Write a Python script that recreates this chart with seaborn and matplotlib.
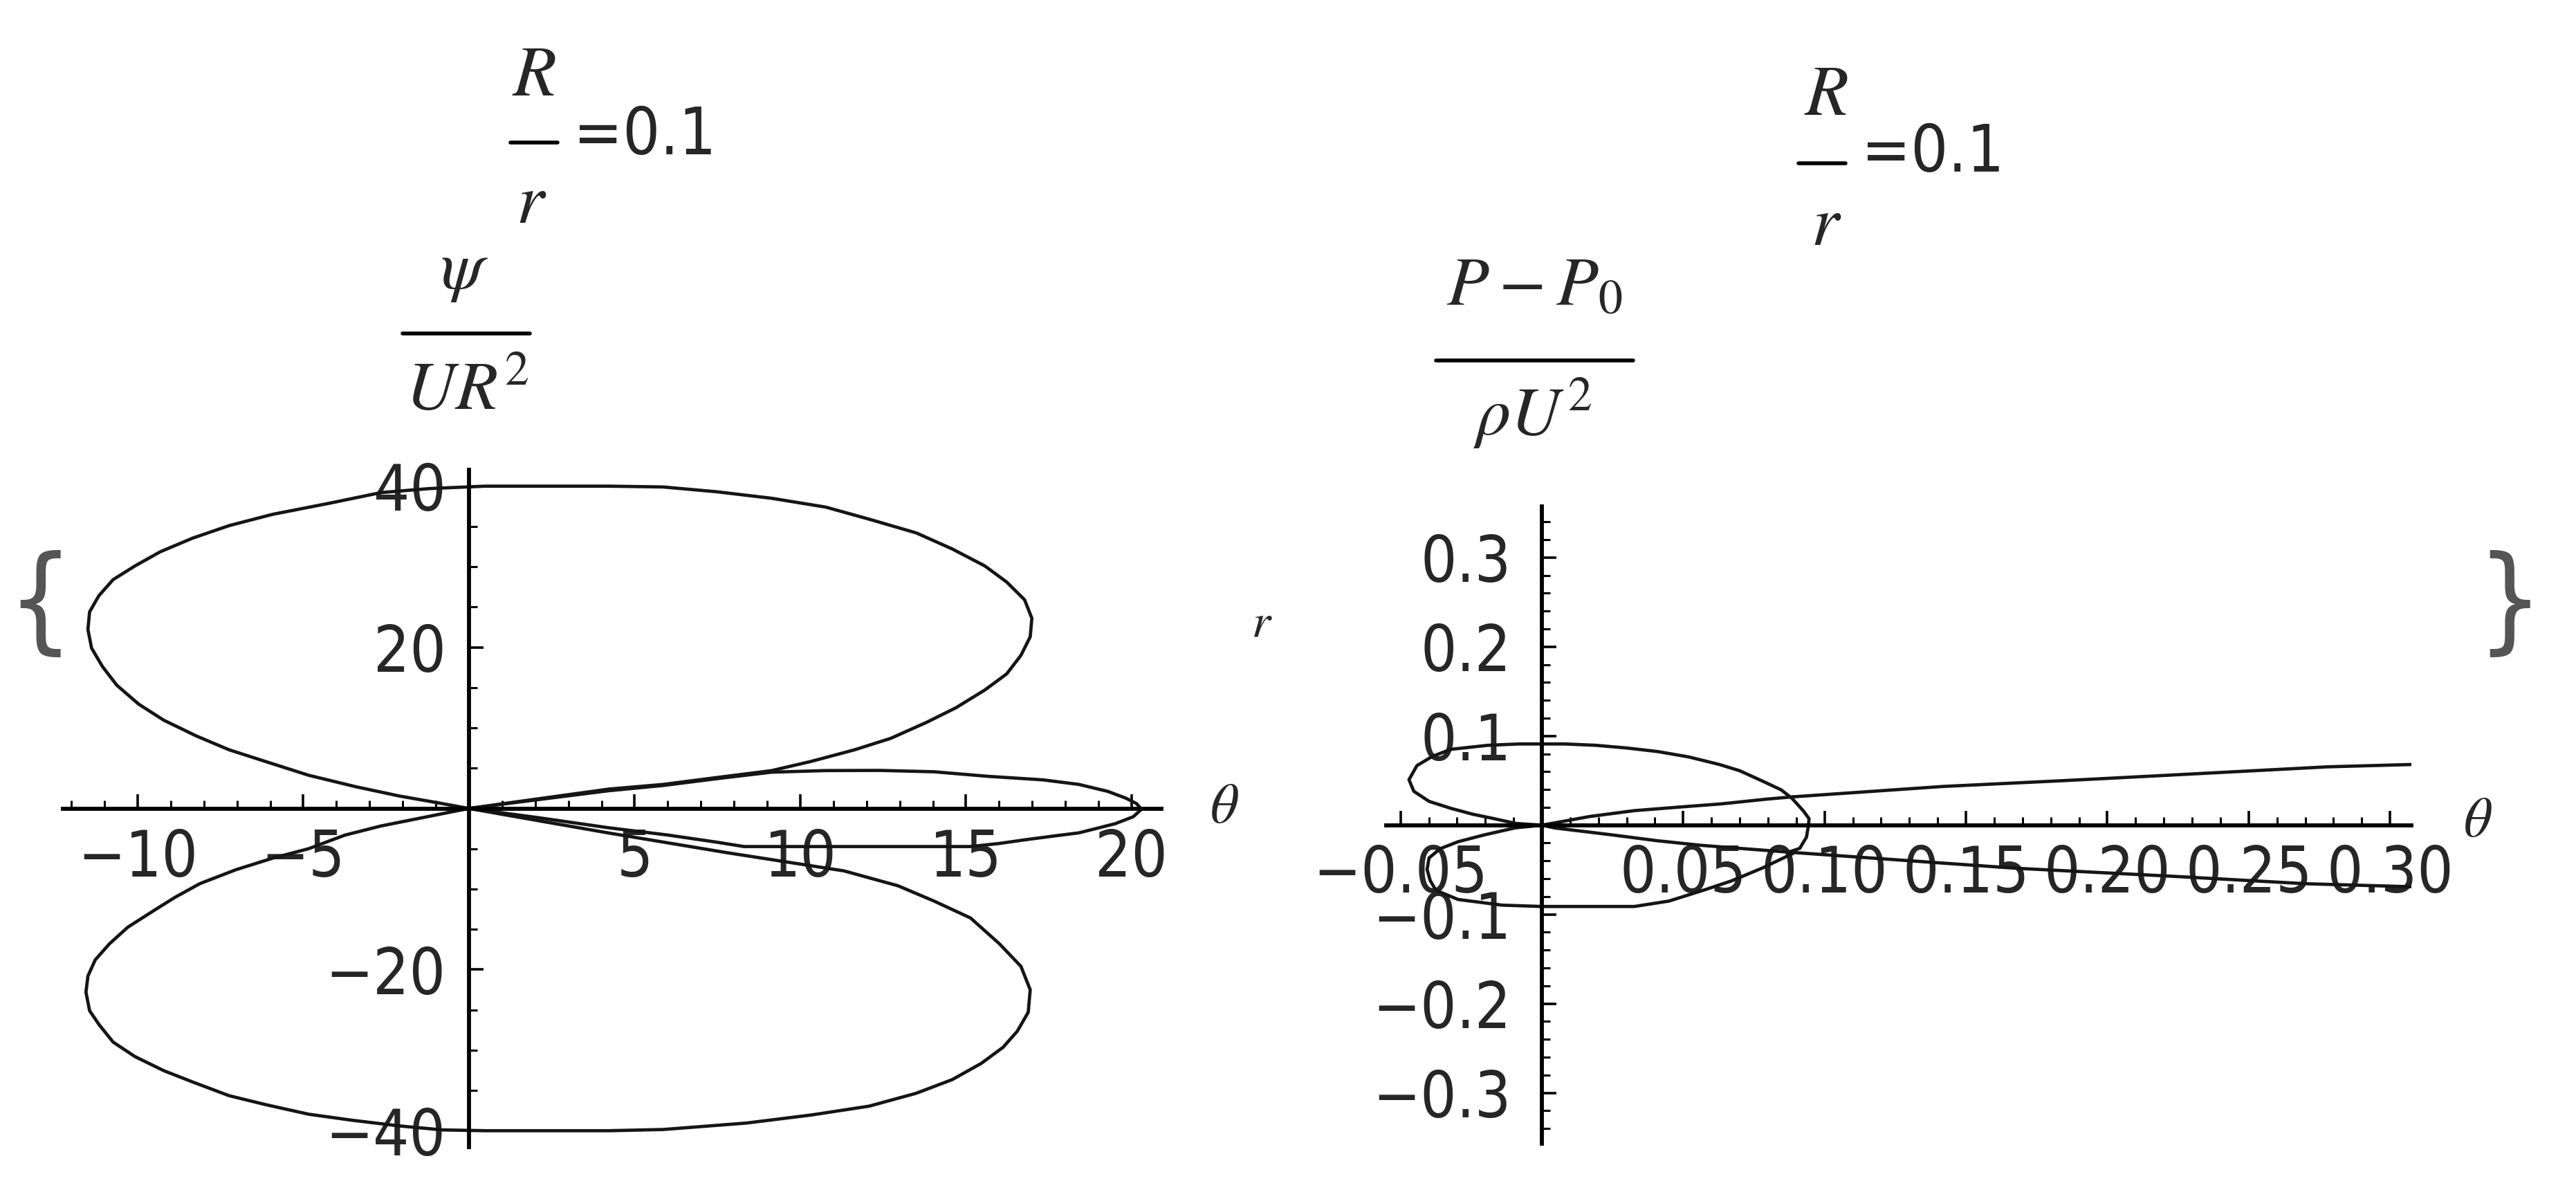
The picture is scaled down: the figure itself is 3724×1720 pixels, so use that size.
import matplotlib
matplotlib.use("Agg")
import matplotlib.pyplot as plt
import seaborn as sns
from matplotlib import font_manager
from matplotlib.lines import Line2D
from matplotlib.ticker import MultipleLocator

# ---------------- data ----------------
# Left panel: psi/(U R^2) versus theta
upper_lobe_x = [0.0, -0.91, -2.11, -3.42, -4.84, -6.15, -7.24, -8.23, -9.21, -9.97, -10.63, -11.06,
                -11.39, -11.50, -11.45, -11.17, -10.74, -10.08, -9.32, -8.34, -7.24, -5.93, -4.19,
                -2.66, -1.2, 0.5, 2.2, 4.22, 5.86, 7.49, 9.13, 10.77, 12.08, 13.50, 14.59, 15.57,
                16.23, 16.77, 16.99, 16.94, 16.66, 16.23, 15.57, 14.70, 13.82, 12.73, 11.64, 10.33,
                9.13, 7.49, 5.86, 4.22, 2.10, 0.0]
upper_lobe_y = [0.0, 0.68, 1.55, 2.70, 4.12, 5.84, 7.28, 9.0, 10.95, 12.95, 15.3, 17.6, 19.9, 22.2,
                24.4, 26.4, 28.4, 30.1, 31.85, 33.55, 35.1, 36.5, 37.9, 39.2, 39.7, 40.0, 40.0, 40.0,
                39.9, 39.3, 38.5, 37.4, 35.9, 34.2, 32.2, 30.1, 28.1, 25.9, 23.6, 21.3, 19.0, 16.7,
                14.7, 12.5, 10.7, 8.7, 7.28, 5.84, 4.69, 3.84, 2.98, 2.40, 1.20, 0.0]

lower_lobe_x = [0.0, -0.91, -2.66, -3.75, -4.84, -5.93, -7.03, -8.12, -8.88, -9.54, -10.30, -10.85,
                -11.28, -11.50, -11.56, -11.45, -11.17, -10.74, -10.08, -9.21, -8.34, -7.24, -6.15,
                -4.84, -3.53, -2.11, -0.8, 0.5, 2.2, 4.22, 5.86, 8.37, 10.33, 12.08, 13.50, 14.59,
                15.46, 16.12, 16.55, 16.88, 16.94, 16.66, 16.01, 15.14, 14.04, 12.95, 11.32, 7.80,
                4.22, 2.0, 0.0]
lower_lobe_y = [0.0, -0.74, -2.18, -3.32, -5.0, -6.18, -7.6, -9.33, -11.05, -12.75, -14.75, -16.8,
                -18.8, -20.8, -22.8, -25.1, -26.8, -29.0, -30.8, -32.55, -33.95, -35.65, -36.75,
                -37.95, -38.7, -39.4, -39.9, -40.0, -40.0, -40.0, -39.85, -39.05, -38.05, -36.95,
                -35.35, -33.65, -31.65, -29.65, -27.65, -25.3, -22.5, -19.6, -16.8, -13.6, -11.5,
                -9.6, -7.75, -5.5, -3.05, -1.45, 0.0]

thin_lobe_x = [0.0, 2.1, 4.22, 5.86, 7.49, 9.13, 10.77, 12.4, 14.04, 15.68, 17.32, 18.41, 19.28,
               19.83, 20.15, 20.3, 20.05, 19.5, 18.41, 17.6, 16.77, 16.0, 15.14, 11.5, 8.3, 7.5,
               6.0, 4.22, 2.1, 0.0]
thin_lobe_y = [0.0, 1.1, 2.2, 2.85, 3.7, 4.5, 4.7, 4.72, 4.55, 3.98, 3.55, 2.98, 2.12, 1.27, 0.6,
               -0.1, -1.03, -1.9, -3.03, -3.45, -3.9, -4.35, -4.73, -4.73, -4.73, -4.2, -3.3,
               -2.4, -1.15, 0.0]

# Right panel: (P - P0)/(rho U^2) versus theta
p_upper_loop_x = [0.0873, 0.0717, 0.0561, 0.0405, 0.0249, 0.0046, 0.0, -0.0093, -0.0169, -0.0246,
                  -0.0322, -0.0399, -0.0453, -0.047, -0.0442, -0.0388, -0.0322, -0.0191, -0.0082,
                  0.0, 0.0082, 0.0191, 0.030, 0.041, 0.0519, 0.0628, 0.070, 0.079, 0.0847, 0.0885,
                  0.0925, 0.0945, 0.0943, 0.0936, 0.0912, 0.0873]
p_upper_loop_y = [-0.0302, -0.0264, -0.0225, -0.0173, -0.0109, -0.0031, 0.0, 0.002, 0.0073, 0.0124,
                  0.0189, 0.0267, 0.038, 0.051, 0.0667, 0.077, 0.085, 0.0895, 0.091, 0.091, 0.091,
                  0.0895, 0.0865, 0.0825, 0.0765, 0.068, 0.061, 0.048, 0.0395, 0.030, 0.016,
                  0.0073, 0.0, -0.0134, -0.026, -0.0302]

p_lower_loop_x = [0.0889, 0.0795, 0.0639, 0.0483, 0.0327, 0.0171, 0.0, -0.0094, -0.0204, -0.0297,
                  -0.036, -0.0399, -0.0406, -0.0395, -0.0375, -0.0297, -0.0141, 0.0, 0.0327, 0.045,
                  0.058, 0.067, 0.078, 0.0889]
p_lower_loop_y = [0.0318, 0.0292, 0.024, 0.0202, 0.0163, 0.0098, 0.0, -0.003, -0.0109, -0.0186,
                  -0.0264, -0.0367, -0.0496, -0.062, -0.0729, -0.0832, -0.0896, -0.0911, -0.0911,
                  -0.085, -0.072, -0.0625, -0.048, -0.0315]

p_upper_tail_x = [0.0889, 0.1419, 0.1844, 0.2156, 0.2468, 0.278, 0.3077]
p_upper_tail_y = [0.0318, 0.0434, 0.0499, 0.055, 0.0602, 0.0654, 0.068]

p_lower_tail_x = [0.0873, 0.1419, 0.168, 0.2234, 0.2702, 0.3077]
p_lower_tail_y = [-0.0302, -0.0425, -0.0483, -0.0573, -0.0656, -0.069]

# ticks
left_xticks = [-10, -5, 5, 10, 15, 20]
left_yticks = [-40, -20, 20, 40]
right_xticks = [-0.05, 0.05, 0.10, 0.15, 0.20, 0.25, 0.30]
right_yticks = [-0.3, -0.2, -0.1, 0.1, 0.2, 0.3]

# ---------------- styling ----------------
sns.set_style("white")
plt.rcParams["mathtext.fontset"] = "stix"
plt.rcParams["font.family"] = ["Liberation Sans", "DejaVu Sans"]

W, H = 3724, 1720


def find_narrow():
    for f in font_manager.fontManager.ttflist:
        if f.name == "Liberation Sans Narrow" and f.style == "normal" and f.weight in (400, "normal", "regular"):
            return f.fname
    for f in font_manager.fontManager.ttflist:
        if f.name == "DejaVu Sans" and str(f.stretch) in ("condensed", "semi-condensed") \
                and f.style == "normal" and f.weight in (400, "normal", "regular"):
            return f.fname
    return None


narrow_path = find_narrow()


def tick_font(size):
    if narrow_path:
        return font_manager.FontProperties(fname=narrow_path, size=size)
    return font_manager.FontProperties(family="Liberation Sans", size=size)


def fmt(v, nd):
    s = f"{v:.{nd}f}" if nd else f"{v:d}"
    return s.replace("-", "\u2212")


fig = plt.figure(figsize=(W / 100, H / 100), dpi=100)
fig.patch.set_facecolor("white")

axL = fig.add_axes([91.2 / W, 1 - 1657.6 / H, (1679 - 91.2) / W, (1657.6 - 679.4) / H])
axR = fig.add_axes([2004.2 / W, 1 - 1653.2 / H, 1482 / W, 921 / H])

curve_kw = dict(sort=False, estimator=None, color="#151515", linewidth=3.4)

for xs, ys in [(upper_lobe_x, upper_lobe_y), (lower_lobe_x, lower_lobe_y), (thin_lobe_x, thin_lobe_y)]:
    sns.lineplot(x=xs, y=ys, ax=axL, **curve_kw)

for xs, ys in [(p_upper_loop_x, p_upper_loop_y), (p_lower_loop_x, p_lower_loop_y),
               (p_upper_tail_x, p_upper_tail_y), (p_lower_tail_x, p_lower_tail_y)]:
    sns.lineplot(x=xs, y=ys, ax=axR, **curve_kw)

axL.set_xlim(-12.25, 20.9)
axL.set_ylim(-42, 42)
axR.set_xlim(-0.055, 0.3076)
axR.set_ylim(-0.357, 0.357)

tfp = tick_font(66)

for ax in (axL, axR):
    ax.set_facecolor("white")
    ax.grid(False)
    ax.spines["top"].set_visible(False)
    ax.spines["right"].set_visible(False)
    ax.spines["left"].set_position(("data", 0))
    ax.spines["bottom"].set_position(("data", 0))
    ax.spines["left"].set_linewidth(4.2)
    ax.spines["bottom"].set_linewidth(4.2)
    ax.spines["left"].set_color("black")
    ax.spines["bottom"].set_color("black")
    ax.set_xlabel("")
    ax.set_ylabel("")

axL.set_xticks(left_xticks, labels=[fmt(v, 0) for v in left_xticks], fontproperties=tfp)
axL.set_yticks(left_yticks, labels=[fmt(v, 0) for v in left_yticks], fontproperties=tfp)
axL.xaxis.set_minor_locator(MultipleLocator(1))
axL.yaxis.set_minor_locator(MultipleLocator(5))

axR.set_xticks(right_xticks, labels=[fmt(v, 2) for v in right_xticks], fontproperties=tfp)
axR.set_yticks(right_yticks, labels=[fmt(v, 1) for v in right_yticks], fontproperties=tfp)
axR.xaxis.set_minor_locator(MultipleLocator(0.01))
axR.yaxis.set_minor_locator(MultipleLocator(0.02))

for ax, ypad, xpad in ((axL, 24, 20), (axR, 32, 19)):
    ax.tick_params(axis="both", which="major", direction="in", length=15, width=2.6, color="black")
    ax.tick_params(axis="both", which="minor", direction="in", length=8.5, width=2.2, color="black")
    ax.tick_params(axis="x", which="major", pad=xpad, bottom=True, top=False)
    ax.tick_params(axis="y", which="major", pad=ypad, left=True, right=False)
    ax.tick_params(axis="x", which="minor", bottom=True, top=False)
    ax.tick_params(axis="y", which="minor", left=True, right=False)


# ---------------- annotation texts ----------------
def ftxt(x, y, s, **kw):
    return fig.text(x / W, 1 - y / H, s, **kw)


def fbar(x1, x2, y, lw=4.0):
    fig.add_artist(Line2D([x1 / W, x2 / W], [1 - y / H, 1 - y / H], transform=fig.transFigure,
                          color="black", linewidth=lw))


# left title  R/r = 0.1
ftxt(772, 112, r"$R$", ha="center", va="center", fontsize=74)
fbar(738, 806, 206)
ftxt(768, 296, r"$r$", ha="center", va="center", fontsize=74)
ftxt(829, 197, "=0.1", ha="left", va="center", fontproperties=tick_font(68))

# right title
ftxt(2640, 140, r"$R$", ha="center", va="center", fontsize=74)
fbar(2600, 2668, 236)
ftxt(2640, 328, r"$r$", ha="center", va="center", fontsize=74)
ftxt(2691, 222, "=0.1", ha="left", va="center", fontproperties=tick_font(68))

# left y label psi / (U R^2)
ftxt(671, 392, r"$\psi$", ha="center", va="center", fontsize=72)
fbar(582, 766, 482)
ftxt(676, 566, r"$UR^2$", ha="center", va="center", fontsize=72)

# right y label (P - P0) / (rho U^2)
ftxt(2218, 414, r"$P-P_0$", ha="center", va="center", fontsize=72)
fbar(2076, 2361, 521)
ftxt(2215, 598, r"$\rho U^2$", ha="center", va="center", fontsize=72)

# theta axis labels
ftxt(1770, 1168, r"$\theta$", ha="center", va="center", fontsize=58)
ftxt(3582, 1188, r"$\theta$", ha="center", va="center", fontsize=58)

# list braces and separating r
ftxt(58, 876, "{", ha="center", va="center", fontproperties=tick_font(120), color="#555555")
ftxt(3628, 876, "}", ha="center", va="center", fontproperties=tick_font(120), color="#555555")
ftxt(1824, 903, r"$r$", ha="center", va="center", fontsize=50)

fig.savefig("out.png", dpi=100, facecolor="white")
